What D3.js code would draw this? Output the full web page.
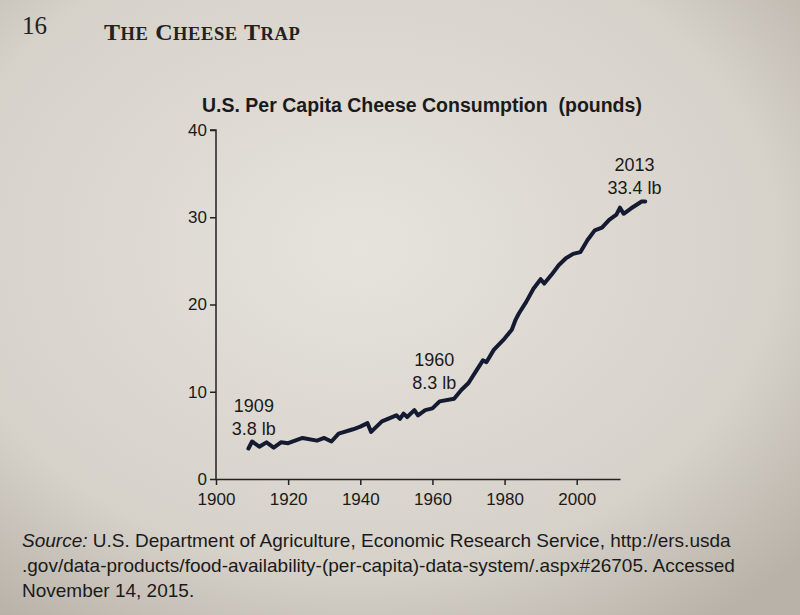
<!DOCTYPE html><html><head><meta charset="utf-8"><script src="https://cdn.jsdelivr.net/npm/d3@7"></script>
<style>body{margin:0;background:#cfcac2}</style></head><body><svg id="c" width="800" height="615"></svg>
<script>
const years=[1909,1910,1912,1914,1916,1918,1920,1924,1928,1930,1932,1934,1938,1940,1942,1943,1946,1950,1951,1952,1953,1955,1956,1958,1960,1962,1966,1968,1970,1972,1974,1975,1977,1980,1982,1983,1984,1986,1988,1990,1991,1993,1995,1997,1999,2001,2003,2005,2007,2009,2011,2012,2013,2015,2018,2019];
const pounds=[3.5,4.3,3.7,4.2,3.6,4.2,4.1,4.7,4.4,4.7,4.3,5.2,5.7,6.0,6.4,5.4,6.6,7.3,6.9,7.5,7.1,7.9,7.3,7.9,8.1,8.9,9.2,10.2,11,12.3,13.6,13.4,14.8,16.1,17.1,18.2,19,20.3,21.8,22.9,22.4,23.4,24.5,25.3,25.8,26,27.4,28.5,28.8,29.7,30.3,31.1,30.4,31,31.8,31.8];
const xTicks=[1900,1920,1940,1960,1980,2000];
const yTicks=[0,10,20,30,40];
const noteLines=[["1909","3.8 lb"],["1960","8.3 lb"],["2013","33.4 lb"]];
const noteYears=[1910.5,1960.5,2016];
const noteValues=[7.7,12.9,35.3];

const svg=d3.select("#c");
const defs=svg.append("defs");
const g=defs.append("radialGradient").attr("id","bg").attr("cx","45%").attr("cy","40%").attr("r","75%");
g.append("stop").attr("offset","0%").attr("stop-color","#e6e3dd");
g.append("stop").attr("offset","70%").attr("stop-color","#d6d1c9");
g.append("stop").attr("offset","100%").attr("stop-color","#b8b2a8");
svg.append("rect").attr("width",800).attr("height",615).attr("fill","url(#bg)");

svg.append("text").attr("x",22).attr("y",34).attr("font-family","Liberation Serif").attr("font-size",25).attr("fill","#222").text("16");
svg.append("text").attr("x",104).attr("y",40).attr("font-family","Liberation Serif").attr("font-size",24).attr("font-weight","bold").attr("fill","#222").attr("letter-spacing",0.6)
  .html('T<tspan font-size="18.5">HE</tspan> C<tspan font-size="18.5">HEESE</tspan> T<tspan font-size="18.5">RAP</tspan>');

const x=d3.scaleLinear().domain([1900,2012]).range([216,620]);
const y=d3.scaleLinear().domain([0,40]).range([479,130]);
const F="Liberation Sans";

svg.append("text").attr("x",202).attr("y",112).attr("font-family",F).attr("font-size",19.5).attr("font-weight","bold").attr("fill","#1a1a1a").attr("xml:space","preserve")
  .text("U.S. Per Capita Cheese Consumption  (pounds)");

const xa=svg.append("g").attr("transform","translate(0,479)").call(d3.axisBottom(x).tickValues(xTicks).tickFormat(d3.format("d")).tickSize(6).tickSizeOuter(0));
const ya=svg.append("g").attr("transform","translate(216,0)").call(d3.axisLeft(y).tickValues(yTicks).tickSize(6).tickSizeOuter(0));
[xa,ya].forEach(a=>{a.selectAll("path,line").attr("stroke","#222").attr("stroke-width",1.5);a.selectAll("text").attr("font-family",F).attr("font-size",17).attr("fill","#1a1a1a");});
xa.selectAll("text").attr("dy","1.0em");
ya.select(".domain").attr("d","M-6,130H0V479");

const line=d3.line().x((d,i)=>x(years[i])).y(d=>y(d));
svg.append("path").attr("d",line(pounds)).attr("fill","none").attr("stroke","#141a30").attr("stroke-width",4).attr("stroke-linejoin","round").attr("stroke-linecap","round");

noteLines.forEach((t,i)=>{
  const tx=svg.append("text").attr("x",x(noteYears[i])).attr("y",y(noteValues[i])).attr("text-anchor","middle").attr("font-family",F).attr("font-size",18).attr("fill","#1a1a1a");
  tx.append("tspan").attr("x",x(noteYears[i])).text(t[0]);
  tx.append("tspan").attr("x",x(noteYears[i])).attr("dy",23).text(t[1]);
});

const src=svg.append("text").attr("font-family",F).attr("font-size",19).attr("fill","#1a1a1a");
src.append("tspan").attr("x",22).attr("y",547).html('<tspan font-style="italic">Source:</tspan> U.S. Department of Agriculture, Economic Research Service, http://ers.usda');
src.append("tspan").attr("x",22).attr("y",572).text(".gov/data-products/food-availability-(per-capita)-data-system/.aspx#26705. Accessed");
src.append("tspan").attr("x",22).attr("y",597).text("November 14, 2015.");
</script></body></html>
